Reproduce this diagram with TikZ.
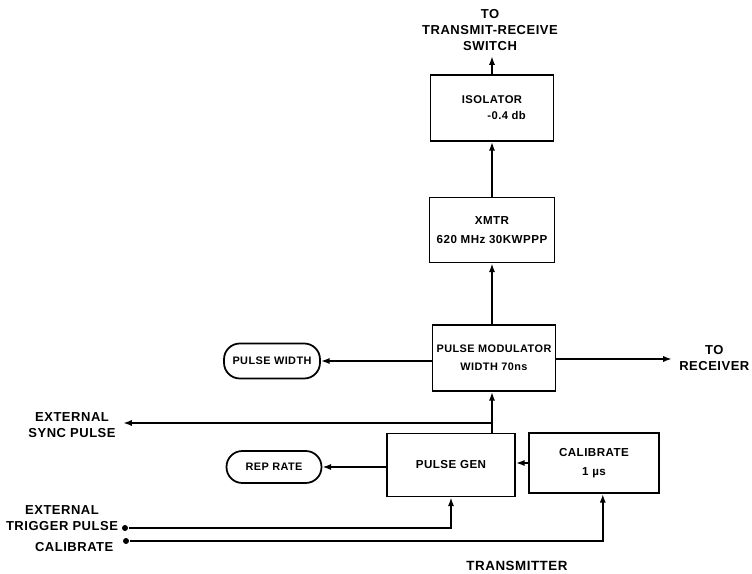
\documentclass[tikz,border=0pt]{standalone}
\usepackage{fontspec}
\setmainfont[LetterSpace=4]{Liberation Sans}
\usetikzlibrary{arrows.meta}
\begin{document}
\begin{tikzpicture}[x=0.02cm, y=-0.02cm,
    line width=1pt,
    box/.style={draw, rectangle, align=center, inner sep=0pt,
        font=\fontsize{6.6}{10.5}\selectfont\bfseries},
    pill/.style={draw, rectangle, rounded corners=9pt, inner sep=0pt,
        font=\fontsize{6.2}{9}\selectfont\bfseries},
    lbl/.style={align=center, inner sep=1pt,
        font=\fontsize{7.4}{9}\selectfont\bfseries},
    ->/.style={-{Latex[length=5pt,width=3.5pt]}},
    dot/.style={circle, fill, inner sep=1.2pt}]
    \useasboundingbox (0,0) rectangle (752,574);

    \node[box, minimum width=2.46cm, minimum height=1.32cm,
          font=\fontsize{6.4}{9}\selectfont\bfseries]
          (iso) at (492,108) {ISOLATOR\\\hspace*{2.6em}-0.4 db};
    \node[box, minimum width=2.5cm, minimum height=1.3cm] (xmtr) at (492,230) {XMTR\\620 MHz 30KWPPP};
    \node[box, minimum width=2.46cm, minimum height=1.32cm,
          font=\fontsize{6.2}{10.5}\selectfont\bfseries] (pmod) at (494,358) {PULSE MODULATOR\\WIDTH 70ns};
    \node[box, minimum width=2.56cm, minimum height=1.26cm] (pgen) at (451,465) {PULSE GEN};
    \node[box, minimum width=2.6cm, minimum height=1.2cm] (cal) at (594,463) {CALIBRATE\\1 µs};
    \node[pill, minimum width=1.92cm, minimum height=0.7cm] (pw) at (272,361) {PULSE WIDTH};
    \node[pill, minimum width=1.9cm, minimum height=0.64cm] (rr) at (274,467) {REP RATE};

    \node[lbl] (trs) at (490,30) {TO\\TRANSMIT-RECEIVE\\SWITCH};
    \node[lbl, anchor=east] (rcv) at (752,358) {TO\\RECEIVER};
    \node[lbl] (sync) at (72,425) {EXTERNAL\\SYNC PULSE};
    \node[lbl] (trig) at (62,518) {EXTERNAL\\TRIGGER PULSE};
    \node[lbl, anchor=east] (calin) at (116,547) {CALIBRATE};
    \node[lbl, font=\fontsize{7.6}{9}\selectfont\bfseries] (title) at (517,566) {TRANSMITTER};

    \coordinate (rcvtip) at (672,359);
    \coordinate (jn) at (492,423);
    \coordinate (synctip) at (123,423);
    \node[dot] (trigdot) at (125,528) {};
    \node[dot] (caldot) at (126,541) {};

    \draw[->] (iso.north) -- ++(0,-18);
    \draw[->] (xmtr.north) -- (iso.south);
    \draw[->] (pmod.north -| xmtr.south) -- (xmtr.south);
    \draw[->] (pw.east -| pmod.west) -- (pw.east);
    \draw[->] (pmod.east |- rcvtip) -- (rcvtip);
    \draw[->] (pgen.north -| jn) -- (pmod.south -| jn);
    \draw[->] (jn) -- (synctip);
    \draw[->] (pgen.west |- rr) -- (rr.east);
    \draw[->] (cal.west) -- (cal.west -| pgen.east);
    \draw[->] (trigdot) -| (pgen.south);
    \draw[->] (caldot) -| ([xshift=5]cal.south);
\end{tikzpicture}
\end{document}
